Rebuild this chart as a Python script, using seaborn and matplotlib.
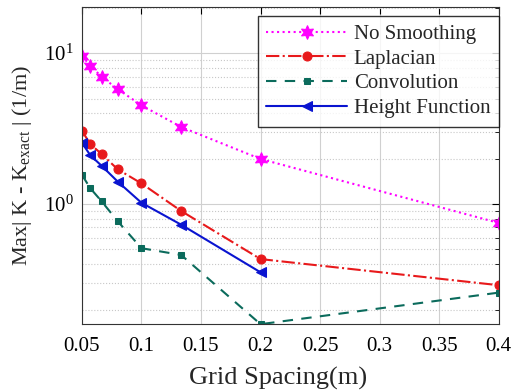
import matplotlib
matplotlib.use("Agg")
import matplotlib.pyplot as plt
import seaborn as sns
import pandas as pd
import numpy as np

grid_spacing = [0.05, 0.05714, 0.06667, 0.08, 0.1, 0.13333, 0.2, 0.4]
no_smoothing = [9.6, 8.24, 6.96, 5.78, 4.51, 3.24, 1.99, 0.75]
laplacian = [3.06, 2.49, 2.14, 1.70, 1.37, 0.90, 0.432, 0.29]
convolution = [1.56, 1.27, 1.04, 0.77, 0.51, 0.46, 0.16, 0.259]
height_x = [0.05, 0.05714, 0.06667, 0.08, 0.1, 0.13333, 0.2]
height_function = [2.55, 2.10, 1.79, 1.41, 1.02, 0.73, 0.353]

xticks = [0.05, 0.1, 0.15, 0.2, 0.25, 0.3, 0.35, 0.4]
xtick_labels = ["0.05", "0.1", "0.15", "0.2", "0.25", "0.3", "0.35", "0.4"]

sns.set_style("white")
plt.rcParams['font.family'] = ['Liberation Serif', 'DejaVu Serif']
plt.rcParams['mathtext.fontset'] = 'custom'
plt.rcParams['mathtext.rm'] = 'Liberation Serif'
plt.rcParams['mathtext.it'] = 'Liberation Serif:italic'

fig = plt.figure(figsize=(5.12, 3.92), dpi=100)
ax = fig.add_axes([0.160, 0.173, 0.814, 0.809])

hexagram = (6, 1, 0)
series = [
    ("No Smoothing", grid_spacing, no_smoothing, "#FF00FF", ":", hexagram, 10),
    ("Laplacian", grid_spacing, laplacian, "#E8191B", "-.", "o", 6.5),
    ("Convolution", grid_spacing, convolution, "#0B6B5C", (0, (5, 4)), "s", 5),
    ("Height Function", height_x, height_function, "#0A14D0", "-", "<", 7.5),
]
for name, xs, ys, col, ls, mk, ms in series:
    df = pd.DataFrame({"x": xs, "y": ys})
    sns.lineplot(data=df, x="x", y="y", ax=ax, color=col, linestyle=ls,
                 marker=mk, markersize=ms, markeredgecolor=col, markerfacecolor=col,
                 linewidth=1.5, label=name)

ax.set_yscale("log")
ax.set_xlim(0.05, 0.4)
ax.set_ylim(0.16, 20.2)
ax.set_xticks(xticks)
ax.set_xticklabels(xtick_labels)

ax.grid(True, which="major", color="#d0d0d0", linestyle="-", linewidth=0.8)
ax.grid(True, which="minor", axis="y", color="#c8c8c8", linestyle=":", linewidth=0.8)
ax.set_axisbelow(True)

ax.tick_params(which="both", direction="in", top=True, right=True, labelsize=15, colors="black")
ax.tick_params(which="major", length=5)
ax.tick_params(which="minor", length=3)
ax.tick_params(axis="x", which="major", pad=9)
ax.tick_params(axis="y", which="major", pad=6)
for s in ax.spines.values():
    s.set_color("#333333")
    s.set_linewidth(0.8)

ax.set_xlabel("Grid Spacing(m)", fontsize=19)
ax.xaxis.set_label_coords(0.47, -0.135)
ax.set_ylabel(r"Max| K - K$_{\mathrm{exact}}$ | (1/m)", fontsize=16, labelpad=7)

leg = ax.legend(loc="upper right", bbox_to_anchor=(1.0, 0.972), fontsize=15,
                handlelength=3.85, frameon=True, fancybox=False, edgecolor="black",
                borderaxespad=0.0, labelspacing=0.25, handletextpad=0.34, borderpad=0.4)
leg.get_frame().set_linewidth(1.0)

fig.savefig("out.png", dpi=100)
